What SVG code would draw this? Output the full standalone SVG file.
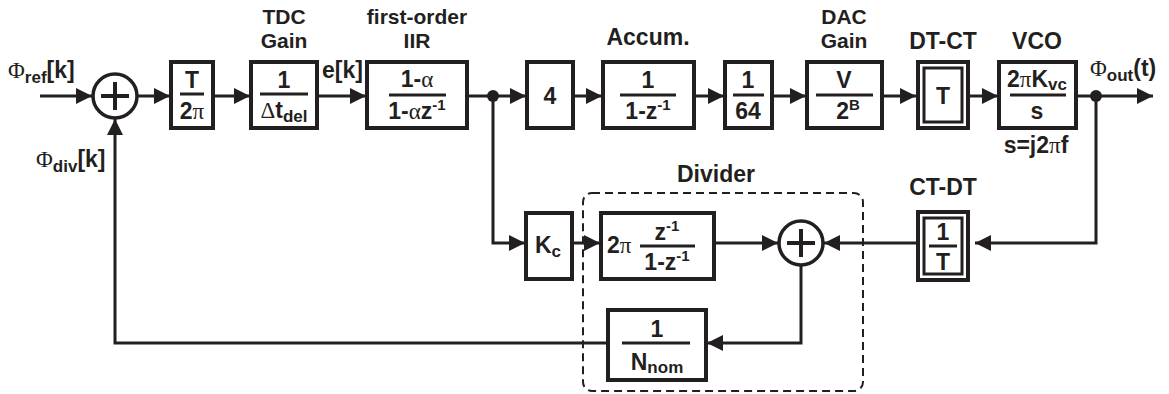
<svg xmlns="http://www.w3.org/2000/svg" width="1169" height="394" viewBox="0 0 1169 394">
<style>
.box{fill:#fff;stroke:#231f20;stroke-width:4}
.box2{fill:none;stroke:#231f20;stroke-width:3}
.w{stroke:#231f20;stroke-width:3;fill:none}
.bar{stroke:#231f20;stroke-width:3}
.t{font-family:"Liberation Sans",Arial,sans-serif;font-weight:bold;font-size:23px;fill:#231f20}
.h{font-size:21px}
.m{text-anchor:middle}
.g{font-family:"Liberation Serif","Times New Roman",serif;font-weight:normal}
.sub{font-size:17px}
.sup{font-size:15px}
.sum{fill:#fff;stroke:#231f20;stroke-width:3.5}
.plus{stroke:#231f20;stroke-width:4}
.dot{fill:#231f20}
.dash{fill:none;stroke:#231f20;stroke-width:2;stroke-dasharray:8 5}
</style>
<defs>
<marker id="arr" viewBox="0 0 16 16" refX="16" refY="8" markerWidth="16" markerHeight="16" orient="auto" markerUnits="userSpaceOnUse"><path d="M0,0 L16,8 L0,16 z" fill="#231f20"/></marker>
</defs>
<rect width="1169" height="394" fill="#fff"/>

<g id="connectors">
<path class="w" d="M40,96 H92" marker-end="url(#arr)"/>
<path class="w" d="M138,96 H170" marker-end="url(#arr)"/>
<path class="w" d="M213,96 H250" marker-end="url(#arr)"/>
<path class="w" d="M317,96 H366" marker-end="url(#arr)"/>
<path class="w" d="M467,96 H526" marker-end="url(#arr)"/>
<path class="w" d="M573,96 H602" marker-end="url(#arr)"/>
<path class="w" d="M694,96 H724" marker-end="url(#arr)"/>
<path class="w" d="M772,96 H806" marker-end="url(#arr)"/>
<path class="w" d="M882,96 H916" marker-end="url(#arr)"/>
<path class="w" d="M968,96 H998" marker-end="url(#arr)"/>
<path class="w" d="M1076,96 H1153" marker-end="url(#arr)"/>
<path class="w" d="M1096,96 V243 H975" marker-end="url(#arr)"/>
<path class="w" d="M918,243 H824" marker-end="url(#arr)"/>
<path class="w" d="M493,96 V243 H525" marker-end="url(#arr)"/>
<path class="w" d="M572,243 H600" marker-end="url(#arr)"/>
<path class="w" d="M714,243 H778" marker-end="url(#arr)"/>
<path class="w" d="M801,266 V343 H707" marker-end="url(#arr)"/>
<path class="w" d="M608,343 H115 V119" marker-end="url(#arr)"/>
<circle class="dot" cx="493" cy="96" r="6"/>
<circle class="dot" cx="1096" cy="96" r="6"/>
</g>

<g id="divider">
<rect class="dash" x="583" y="193" width="280" height="198" rx="9"/>
<text class="t m" x="716" y="182">Divider</text>
</g>

<g id="input-label">
<text class="t" x="8" y="78"><tspan class="g">Φ</tspan><tspan class="sub" dy="5">ref</tspan><tspan dy="-5">[k]</tspan></text>
</g>

<g id="sum1">
<circle class="sum" cx="115" cy="96" r="22"/>
<path class="plus" d="M101,96 H129 M115,82 V110"/>
</g>

<g id="t-over-2pi">
<rect class="box" x="171" y="62" width="42" height="66"/>
<text class="t m" x="192" y="88">T</text>
<line class="bar" x1="180" y1="94" x2="204" y2="94"/>
<text class="t m" x="192" y="119">2<tspan class="g">π</tspan></text>
</g>

<g id="tdc">
<text class="t h m" x="284" y="24">TDC</text>
<text class="t h m" x="284" y="48">Gain</text>
<rect class="box" x="251" y="62" width="66" height="66"/>
<text class="t m" x="284" y="88">1</text>
<line class="bar" x1="260" y1="94" x2="308" y2="94"/>
<text class="t m" x="284" y="118"><tspan class="g">Δ</tspan>t<tspan class="sub" dy="4">del</tspan></text>
</g>

<g id="ek-label">
<text class="t" x="322" y="78">e[k]</text>
</g>

<g id="iir">
<text class="t h m" x="417" y="24">first-order</text>
<text class="t h m" x="417" y="48">IIR</text>
<rect class="box" x="367" y="62" width="100" height="66"/>
<text class="t m" x="417" y="87">1-<tspan class="g">α</tspan></text>
<line class="bar" x1="389" y1="95" x2="446" y2="95"/>
<text class="t m" x="417" y="119">1-<tspan class="g">α</tspan>z<tspan class="sup" dy="-9">-1</tspan></text>
</g>

<g id="gain4">
<rect class="box" x="527" y="62" width="46" height="66"/>
<text class="t m" x="550" y="104">4</text>
</g>

<g id="accum">
<text class="t m" x="648" y="45">Accum.</text>
<rect class="box" x="603" y="62" width="91" height="66"/>
<text class="t m" x="648" y="88">1</text>
<line class="bar" x1="620" y1="95" x2="676" y2="95"/>
<text class="t m" x="648" y="119">1-z<tspan class="sup" dy="-9">-1</tspan></text>
</g>

<g id="div64">
<rect class="box" x="725" y="62" width="47" height="66"/>
<text class="t m" x="748" y="88">1</text>
<line class="bar" x1="733" y1="95" x2="764" y2="95"/>
<text class="t m" x="748" y="119">64</text>
</g>

<g id="dac">
<text class="t h m" x="844" y="24">DAC</text>
<text class="t h m" x="844" y="48">Gain</text>
<rect class="box" x="807" y="62" width="75" height="66"/>
<text class="t m" x="844" y="88">V</text>
<line class="bar" x1="816" y1="95" x2="873" y2="95"/>
<text class="t m" x="848" y="119">2<tspan class="sup" dy="-9">B</tspan></text>
</g>

<g id="dtct">
<text class="t m" x="943" y="49">DT-CT</text>
<rect class="box" x="918" y="62" width="50" height="66"/>
<rect class="box2" x="924" y="68" width="38" height="54"/>
<text class="t m" x="943" y="104">T</text>
</g>

<g id="vco">
<text class="t m" x="1037" y="49">VCO</text>
<rect class="box" x="999" y="62" width="77" height="66"/>
<text class="t m" x="1037" y="87">2<tspan class="g">π</tspan>K<tspan class="sub" dy="3">vc</tspan></text>
<line class="bar" x1="1010" y1="95" x2="1066" y2="95"/>
<text class="t m" x="1037" y="119">s</text>
<text class="t m" x="1036" y="153">s=j2<tspan class="g">π</tspan>f</text>
</g>

<g id="output-label">
<text class="t" x="1090" y="76"><tspan class="g">Φ</tspan><tspan class="sub" dy="5">out</tspan><tspan dy="-5">(t)</tspan></text>
</g>

<g id="ctdt">
<text class="t m" x="943" y="195">CT-DT</text>
<rect class="box" x="918" y="212" width="50" height="68"/>
<rect class="box2" x="924" y="218" width="38" height="56"/>
<text class="t m" x="943" y="240">1</text>
<line class="bar" x1="929" y1="246" x2="957" y2="246"/>
<text class="t m" x="943" y="270">T</text>
</g>

<g id="kc">
<rect class="box" x="526" y="213" width="46" height="66"/>
<text class="t m" x="548" y="253">K<tspan class="sub" dy="4">c</tspan></text>
</g>

<g id="accum2pi">
<rect class="box" x="601" y="213" width="113" height="66"/>
<text class="t" x="607" y="253">2<tspan class="g">π</tspan></text>
<line class="bar" x1="640" y1="246" x2="695" y2="246"/>
<text class="t m" x="667" y="240">z<tspan class="sup" dy="-9">-1</tspan></text>
<text class="t m" x="667" y="270">1-z<tspan class="sup" dy="-9">-1</tspan></text>
</g>

<g id="sum2">
<circle class="sum" cx="801" cy="243" r="22"/>
<path class="plus" d="M787,243 H815 M801,229 V257"/>
</g>

<g id="nnom">
<rect class="box" x="608" y="310" width="98" height="70"/>
<text class="t m" x="657" y="337">1</text>
<line class="bar" x1="622" y1="343" x2="690" y2="343"/>
<text class="t m" x="657" y="370">N<tspan class="sub" dy="3">nom</tspan></text>
</g>

<g id="fb-label">
<text class="t" x="36" y="167"><tspan class="g">Φ</tspan><tspan class="sub" dy="5">div</tspan><tspan dy="-5">[k]</tspan></text>
</g>
</svg>
